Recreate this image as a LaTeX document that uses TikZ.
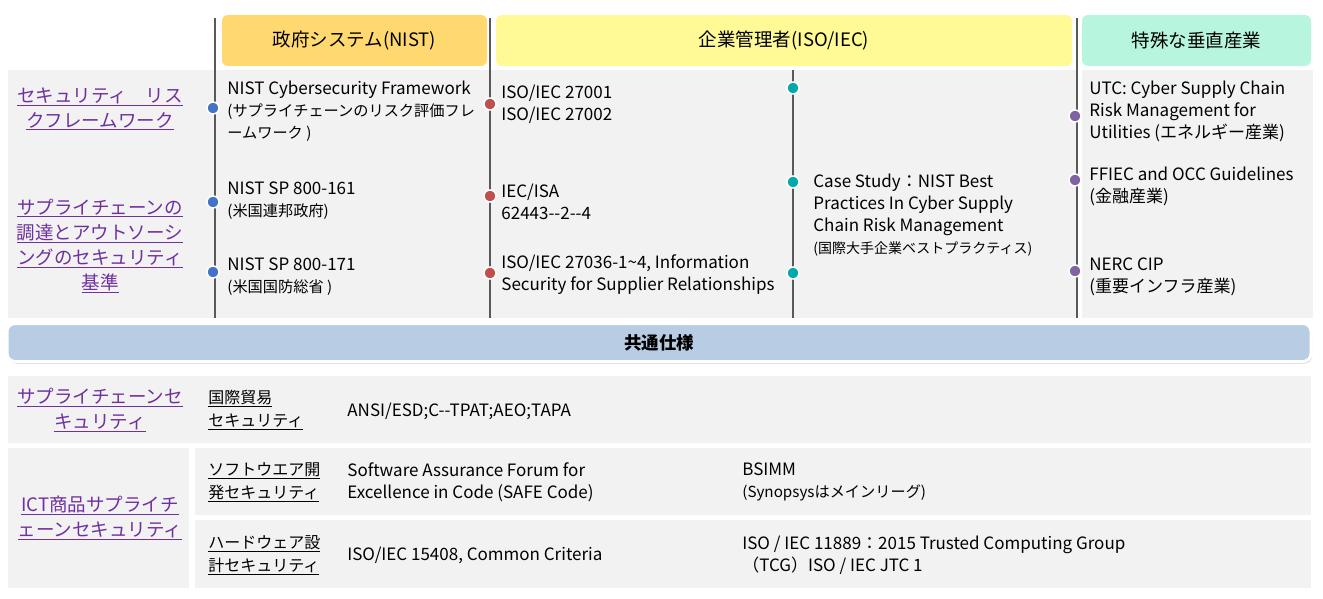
\documentclass[tikz,border=0pt]{standalone}
\usepackage{fontspec}
\setmainfont{Noto Sans CJK JP}
\usetikzlibrary{shadows}
\definecolor{govhead}{RGB}{255,217,112}
\definecolor{enthead}{RGB}{255,250,150}
\definecolor{spchead}{RGB}{184,245,222}
\definecolor{panel}{RGB}{242,242,242}
\definecolor{barblue}{RGB}{184,204,228}
\definecolor{lblpurple}{RGB}{112,48,160}
\definecolor{dotblue}{RGB}{68,114,196}
\definecolor{dotred}{RGB}{192,80,77}
\definecolor{dotteal}{RGB}{0,170,170}
\definecolor{dotpurple}{RGB}{128,100,162}
\newcommand{\ulx}[1]{\underline{#1}}
\newcommand{\jsm}{\fontsize{15.2}{22}\selectfont}
\tikzset{every picture/.style={line width=0.75pt}}
\tikzset{
  headbox/.style={rounded corners=6pt, draw=none},
  entry/.style={anchor=west, align=left, font=\fontsize{17}{22}\selectfont, inner sep=0pt},
  sidelbl/.style={align=center, text=lblpurple, font=\fontsize{18.5}{25}\selectfont},
  sublbl/.style={anchor=west, align=left, font=\fontsize{16}{23}\selectfont, inner sep=0pt},
  dot/.style={circle, fill=#1, draw=white, line width=1.5pt, minimum size=12pt, inner sep=0pt},
  divider/.style={draw=gray!70!black, line width=1.2pt}
}
\begin{document}
\begin{tikzpicture}[x=1pt,y=1pt,yscale=-1]
\useasboundingbox (0,0) rectangle (1323,599);

% panels
\fill [panel] (8,70) rectangle (1077,318);
\fill [panel] (1082,70) rectangle (1313,318);
\fill [panel] (8,376) rectangle (1311,443);
\fill [panel] (8,448) rectangle (189,588);
\fill [panel] (195,448) rectangle (1311,515);
\fill [panel] (195,520) rectangle (1311,588);

% headers
\node [headbox, fill=govhead, minimum width=265pt, minimum height=51pt] (hgov) at (354.5,40.5) {\fontsize{18.5}{20}\selectfont 政府システム(NIST)};
\node [headbox, fill=enthead, minimum width=576pt, minimum height=51pt] (hent) at (784,40.5) {\fontsize{18.5}{20}\selectfont 企業管理者(ISO/IEC)};
\node [headbox, fill=spchead, minimum width=229pt, minimum height=51pt] (hspc) at (1196.5,40.5) {\fontsize{18.5}{20}\selectfont 特殊な垂直産業};

% dividers
\coordinate (t1) at (215,18); \coordinate (b1) at (215,318);
\coordinate (t2) at (490,18); \coordinate (b2) at (490,318);
\coordinate (t3) at (793,70); \coordinate (b3) at (793,318);
\coordinate (t4) at (1077,18); \coordinate (b4) at (1077,318);
\foreach \i in {1,...,4} \draw [divider] (t\i) -- (b\i);

% dots
\foreach \y [count=\k] in {108,202,272} \node [dot=dotblue] (db\k) at (213,\y) {};
\foreach \y [count=\k] in {104,196,273} \node [dot=dotred] (dr\k) at (490,\y) {};
\foreach \y [count=\k] in {88,182,273} \node [dot=dotteal] (dt\k) at (793,\y) {};
\foreach \y [count=\k] in {116,180,271} \node [dot=dotpurple] (dp\k) at (1075,\y) {};

% side labels
\node [sidelbl] (lrisk) at (100,109) {\ulx{セキュリティ　リス}\\\ulx{クフレームワーク}};
\node [sidelbl] (lproc) at (100,246) {\ulx{サプライチェーンの}\\\ulx{調達とアウトソーシ}\\\ulx{ングのセキュリティ}\\\ulx{基準}};
\node [sidelbl] (lsc) at (100,410) {\ulx{サプライチェーンセ}\\\ulx{キュリティ}};
\node [sidelbl] (lict) at (100,518) {\ulx{ICT商品サプライチ}\\\ulx{ェーンセキュリティ}};

% government entries
\node [entry] (g1) at (227,111) {NIST Cybersecurity Framework\\{\jsm (サプライチェーンのリスク評価フレ}\\{\jsm ームワーク )}};
\node [entry] (g2) at (227,201) {NIST SP 800-161\\{\jsm (米国連邦政府)}};
\node [entry] (g3) at (227,277) {NIST SP 800-171\\{\jsm (米国国防総省 )}};

% enterprise entries
\node [entry] (e1) at (501,104) {ISO/IEC 27001\\ISO/IEC 27002};
\node [entry] (e2) at (501,202) {IEC/ISA\\62443-{}-2-{}-4};
\node [entry] (e3) at (501,275) {ISO/IEC 27036-1\textasciitilde 4, Information\\Security for Supplier Relationships};
\node [entry] (e4) at (813,215) {Case Study：NIST Best\\Practices In Cyber Supply\\Chain Risk Management\\{\fontsize{14}{18}\selectfont (国際大手企業ベストプラクティス)}};

% special entries
\node [entry] (s1) at (1089,111) {UTC: Cyber Supply Chain\\Risk Management for\\Utilities (エネルギー産業)};
\node [entry] (s2) at (1089,186) {FFIEC and OCC Guidelines\\(金融産業)};
\node [entry] (s3) at (1089,277) {NERC CIP\\(重要インフラ産業)};

% common bar
\node [rounded corners=8pt, fill=barblue, draw=white, line width=3pt, drop shadow={shadow xshift=1pt, shadow yshift=-2pt, opacity=0.4},
  minimum width=1304pt, minimum height=38pt] (common) at (659,342.5) {\fontsize{17.5}{20}\selectfont\bfseries 共通仕様};

% bottom rows
\node [sublbl] (btrade) at (208,410) {\ulx{国際貿易}\\\ulx{セキュリティ}};
\node [entry] (ctrade) at (347,411) {ANSI/ESD;C-{}-TPAT;AEO;TAPA};
\node [sublbl] (bsoft) at (208,482) {\ulx{ソフトウエア開}\\\ulx{発セキュリティ}};
\node [entry] (csoft1) at (347,482) {Software Assurance Forum for\\Excellence in Code (SAFE Code)};
\node [entry] (csoft2) at (742,482) {BSIMM\\{\jsm (Synopsysはメインリーグ)}};
\node [sublbl] (bhard) at (208,555) {\ulx{ハードウェア設}\\\ulx{計セキュリティ}};
\node [entry] (chard1) at (347,555) {ISO/IEC 15408, Common Criteria};
\node [entry] (chard2) at (742,555) {ISO / IEC 11889：2015 Trusted Computing Group\\（TCG）ISO / IEC JTC 1};
\end{tikzpicture}
\end{document}
